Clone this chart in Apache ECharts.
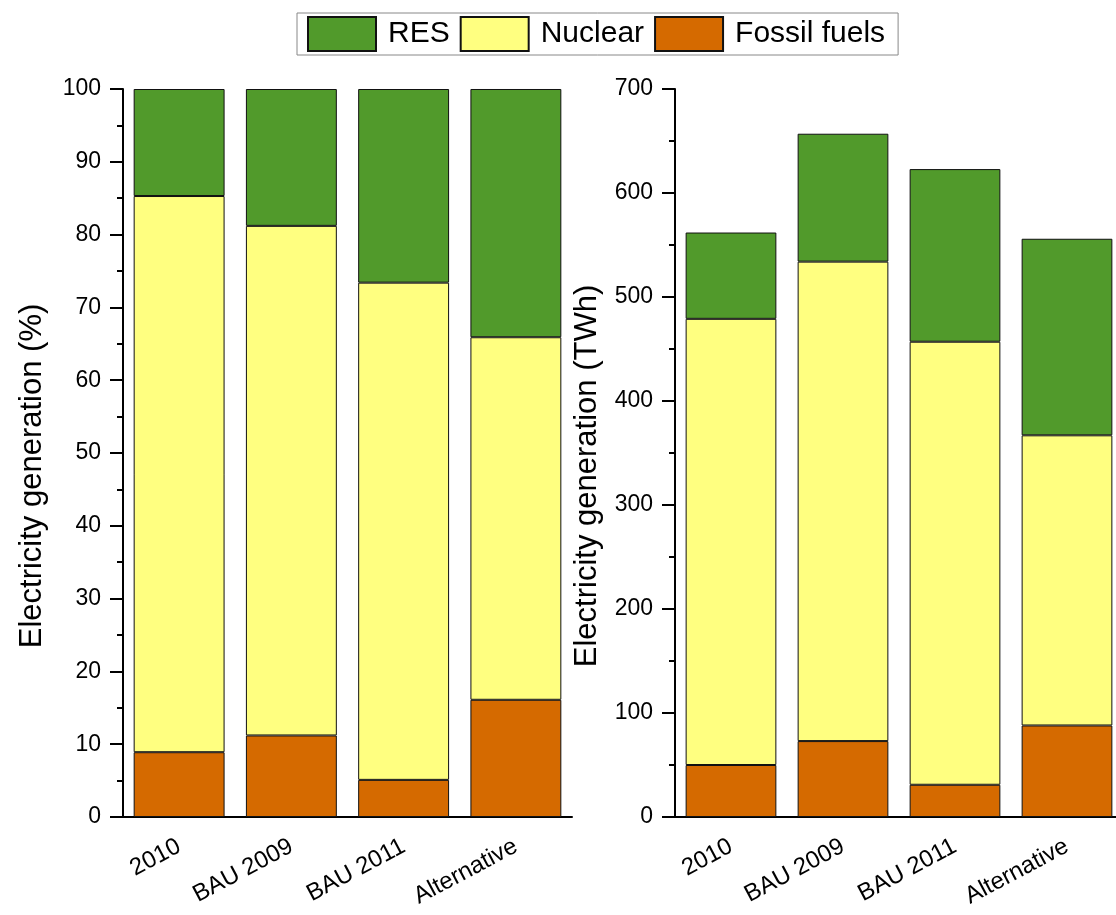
<!DOCTYPE html>
<html>
<head>
<meta charset="utf-8">
<title>Electricity generation by scenario</title>
<script src="https://cdn.jsdelivr.net/npm/echarts@6/dist/echarts.min.js"></script>
<style>
  html, body { margin: 0; padding: 0; background: #ffffff; overflow: hidden; }
  /* the right-hand plot runs slightly past the page edge */
  #chart { width: 1130px; height: 915px; }
</style>
</head>
<body>
<div id="chart"></div>
<script>
// Scenarios on the category axis
const categories = ['2010', 'BAU 2009', 'BAU 2011', 'Alternative'];

// Generation mix, share of total (%)
const pctFossil  = [8.9, 11.2, 5.1, 16.1];
const pctNuclear = [76.4, 70.0, 68.3, 49.8];
const pctRes     = [14.7, 18.8, 26.6, 34.1];

// Generation mix, absolute (TWh)
const twhFossil  = [50, 73, 31, 88];
const twhNuclear = [429, 461, 426, 279];
const twhRes     = [83, 123, 166, 189];

// Axis ranges
const pctTicks = { min: 0, max: 100, interval: 10 };
const twhTicks = { min: 0, max: 700, interval: 100 };

const FONT = '"Liberation Sans", Arial, Helvetica, sans-serif';
const colors = { res: '#519a2b', nuclear: '#ffff80', fossil: '#d56a00' };
const edge = { borderColor: '#111', borderWidth: 1 };

function mainX(gridIndex) {
  return {
    type: 'category', gridIndex, data: categories,
    axisLine: { lineStyle: { color: '#000', width: 2 } },
    axisTick: { alignWithLabel: true, length: 13, lineStyle: { color: '#000', width: 2 } },
    axisLabel: { rotate: 28, fontSize: 24, fontFamily: FONT, color: '#000', margin: 28 }
  };
}
// Second category axis: short ticks on the boundaries between bars
function boundaryX(gridIndex) {
  return {
    type: 'category', gridIndex, data: categories,
    axisLine: { show: false },
    axisTick: { length: 7, lineStyle: { color: '#000', width: 2 } },
    axisLabel: { show: false }
  };
}
function valueY(gridIndex, ticks, name, gap) {
  return {
    type: 'value', gridIndex, min: ticks.min, max: ticks.max, interval: ticks.interval,
    name, nameLocation: 'middle', nameGap: gap,
    nameTextStyle: { fontSize: 31, fontFamily: FONT, color: '#000', padding: [0, 46, 0, 0] },
    axisLine: { show: true, lineStyle: { color: '#000', width: 2 } },
    axisTick: { show: true, length: 13, lineStyle: { color: '#000', width: 2 } },
    minorTick: { show: true, splitNumber: 2, length: 6, lineStyle: { color: '#000', width: 2 } },
    splitLine: { show: false },
    axisLabel: { fontSize: 23, fontFamily: FONT, color: '#000', margin: 22 }
  };
}
function bar(name, data, xi, yi, color) {
  return {
    name, type: 'bar', stack: 'mix' + xi, data, xAxisIndex: xi, yAxisIndex: yi,
    barWidth: '81%', itemStyle: Object.assign({ color }, edge)
  };
}

const chart = echarts.init(document.getElementById('chart'), null, { renderer: 'canvas' });
chart.setOption({
  backgroundColor: '#ffffff',
  animation: false,
  textStyle: { fontFamily: FONT },
  legend: {
    data: ['RES', 'Nuclear', 'Fossil fuels'],
    icon: 'rect',
    left: 297, top: 13,
    itemWidth: 68, itemHeight: 34, itemGap: 10,
    padding: [3, 13, 3, 10],
    borderColor: '#888', borderWidth: 1,
    textStyle: { fontSize: 30, fontFamily: FONT, color: '#000', padding: [0, 0, 0, 7] }
  },
  grid: [
    { left: 123, width: 449, top: 89, bottom: 98 },
    { left: 675, width: 448, top: 89, bottom: 98 }
  ],
  xAxis: [mainX(0), boundaryX(0), mainX(1), boundaryX(1)],
  yAxis: [
    valueY(0, pctTicks, 'Electricity generation (%)', 75),
    valueY(1, twhTicks, 'Electricity generation (TWh)', 72)
  ],
  series: [
    bar('Fossil fuels', pctFossil, 0, 0, colors.fossil),
    bar('Nuclear', pctNuclear, 0, 0, colors.nuclear),
    bar('RES', pctRes, 0, 0, colors.res),
    bar('Fossil fuels', twhFossil, 2, 1, colors.fossil),
    bar('Nuclear', twhNuclear, 2, 1, colors.nuclear),
    bar('RES', twhRes, 2, 1, colors.res)
  ]
});
</script>
</body>
</html>
